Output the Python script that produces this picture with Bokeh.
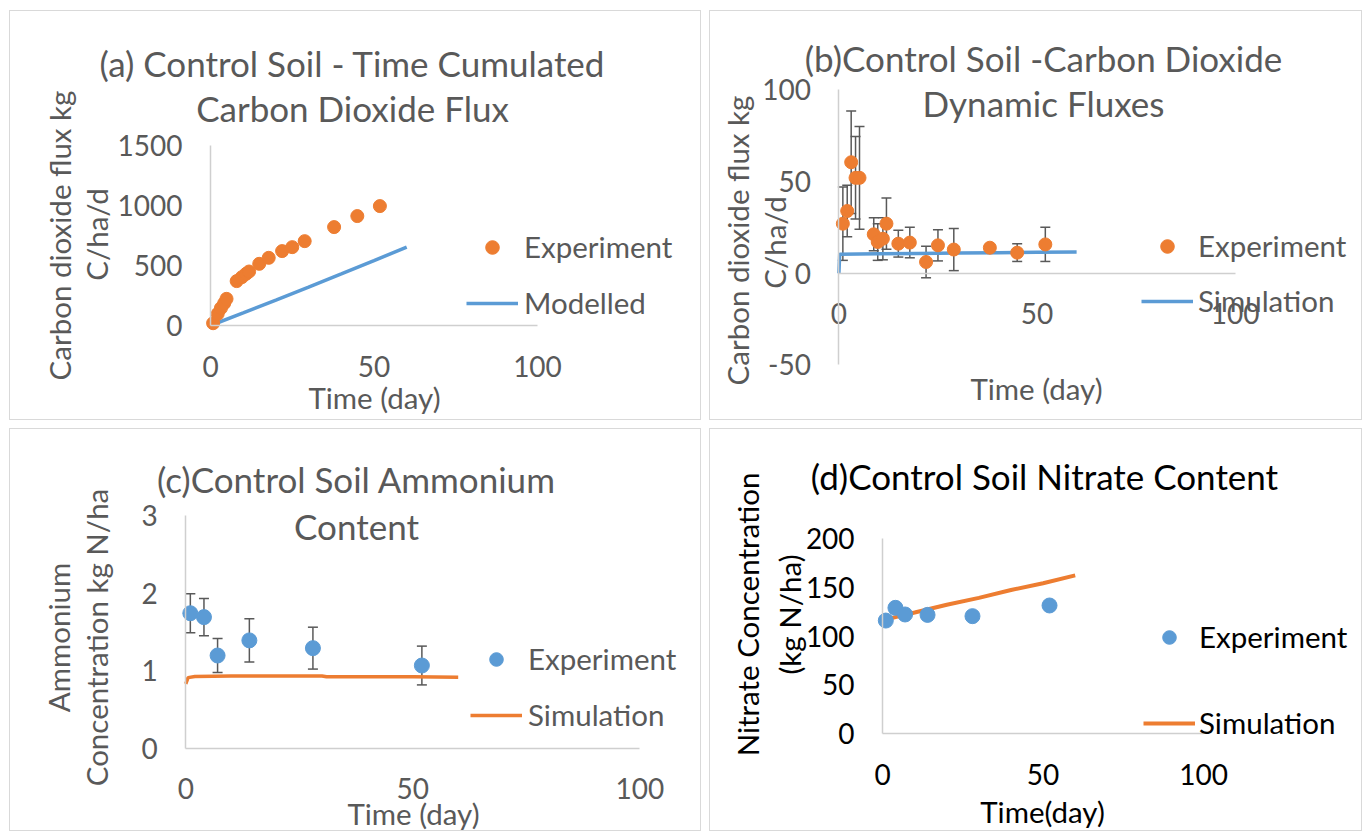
import math
from bokeh.plotting import figure
from bokeh.models import (Range1d, Legend, LegendItem, Whisker, TeeHead,
                          ColumnDataSource, Label, FixedTicker, CustomJSTickFormatter)
from bokeh.layouts import row, column
from bokeh.embed import file_html
from bokeh.resources import INLINE

# ---------------- data ----------------
# (a) cumulated CO2 flux
a_exp_day = [0.8, 2.2, 3.2, 4.2, 4.9, 8.0, 9.6, 10.9, 11.8, 14.9, 17.8, 21.9, 25.0, 28.8, 37.8, 44.9, 51.8]
a_exp_val = [19, 97, 145, 186, 222, 370, 403, 431, 450, 514, 564, 620, 653, 703, 820, 912, 995]
a_mod_day = [0, 10, 20, 30, 40, 50, 60]
a_mod_val = [0, 105, 212, 320, 430, 541, 653]

# (b) dynamic CO2 fluxes
b_exp_day = [1.0, 2.1, 3.1, 4.2, 5.2, 8.8, 9.8, 11.1, 12.0, 15.0, 17.9, 22.0, 25.0, 29.0, 38.1, 45.0, 52.1]
b_exp_val = [27.0, 33.9, 60.5, 52.0, 52.0, 21.2, 17.0, 18.8, 27.0, 16.1, 16.7, 6.1, 15.2, 12.9, 13.9, 11.2, 15.7]
b_exp_err = [20.0, 14.0, 28.0, 22.5, 28.0, 9.0, 10.0, 11.5, 14.0, 7.3, 8.3, 8.6, 8.5, 11.5, 1.5, 4.8, 9.3]
b_sim_day = [0, 0.2, 10, 20, 30, 40, 50, 60]
b_sim_val = [0, 10.4, 10.6, 10.8, 11.0, 11.2, 11.4, 11.5]

# (c) ammonium
c_exp_day = [1, 4, 7, 14, 28, 52]
c_exp_val = [1.74, 1.69, 1.195, 1.39, 1.29, 1.066]
c_exp_err = [0.25, 0.24, 0.22, 0.28, 0.27, 0.25]
c_sim_day = [0, 0.5, 2, 10, 20, 30, 31, 40, 50, 60]
c_sim_val = [0.83, 0.91, 0.925, 0.93, 0.93, 0.93, 0.92, 0.92, 0.92, 0.915]

# (d) nitrate
d_exp_day = [1, 4, 7, 14, 28, 52]
d_exp_val = [115.8, 128.8, 122.0, 121.6, 120.3, 131.2]
d_sim_day = [2.4, 10, 20, 30, 40, 50, 60]
d_sim_val = [118, 124, 132, 139, 147, 154, 162]

x_ticks = [0, 50, 100]
a_yticks = [0, 500, 1000, 1500]
b_yticks = [-50, 0, 50, 100]
c_yticks = [0, 1, 2, 3]
d_yticks = [0, 50, 100, 150, 200]

# ---------------- style ----------------
FONT = "Lato"
GREY = "#595959"
BLACK = "#000000"
AXIS = "#cfcfcf"
ORANGE = "#ED7D31"
BLUE = "#5B9BD5"
TICK_FS = "28px"
LAB_FS = "29.5px"
TITLE_FS = "35px"
VERT = math.pi / 2


class Panel:
    """A figure whose frame fills the whole canvas; axes are pinned at data 0."""

    def __init__(self, box, xcal, ycal, xb, yb, yticks, color):
        # box: page (left, top, width, height); xcal/ycal: ((d0, px0), (d1, px1))
        self.L, self.T, self.W, self.H = box
        self.color = color
        (xd0, xp0), (xd1, xp1) = xcal
        (yd0, yp0), (yd1, yp1) = ycal
        fx = lambda px: xd0 + (px - xp0) * (xd1 - xd0) / (xp1 - xp0)
        fy = lambda py: yd0 + (py - yp0) * (yd1 - yd0) / (yp1 - yp0)
        p = figure(width=self.W, height=self.H, output_backend="svg",
                   toolbar_location=None,
                   x_range=Range1d(fx(self.L), fx(self.L + self.W)),
                   y_range=Range1d(fy(self.T + self.H), fy(self.T)),
                   min_border=0, min_border_left=0, min_border_right=0,
                   min_border_top=0, min_border_bottom=0)
        p.outline_line_color = None
        p.grid.visible = False
        p.background_fill_color = "white"
        p.border_fill_color = "white"
        p.styles = {"outline": "1px solid #d9d9d9"}
        for ax, bounds, stand in ((p.xaxis[0], xb, 30), (p.yaxis[0], yb, 28)):
            ax.fixed_location = 0
            ax.bounds = bounds
            ax.axis_line_color = AXIS
            ax.axis_line_width = 1.5
            ax.major_tick_out = 0
            ax.major_tick_in = 0
            ax.minor_tick_out = 0
            ax.minor_tick_in = 0
            ax.major_tick_line_color = None
            ax.minor_tick_line_color = None
            ax.major_label_text_font = FONT
            ax.major_label_text_font_size = TICK_FS
            ax.major_label_text_color = color
            ax.major_label_standoff = stand
            ax.formatter = CustomJSTickFormatter(code="return String(tick)")
        p.xaxis.ticker = FixedTicker(ticks=x_ticks)
        p.yaxis.ticker = FixedTicker(ticks=yticks)
        self.p = p

    def text(self, px, py, text, size, angle=0.0):
        self.p.add_layout(Label(x=px - self.L, y=self.T + self.H - py,
                                x_units="screen", y_units="screen",
                                text=text, text_font=FONT, text_font_size=size,
                                text_color=self.color, text_align="center",
                                text_baseline="middle", angle=angle))

    def legend(self, items, left_px, bottom_px, spacing, standoff):
        leg = Legend(items=items,
                     location=(left_px - self.L, self.T + self.H - bottom_px),
                     label_text_font=FONT, label_text_font_size=LAB_FS,
                     label_text_color=self.color, glyph_width=52,
                     glyph_height=34, label_height=34, spacing=spacing,
                     padding=0, margin=0, border_line_color=None,
                     background_fill_alpha=0, label_standoff=standoff)
        self.p.add_layout(leg)

    def errors(self, days, vals, errs):
        src = ColumnDataSource(dict(x=days,
                                    lo=[v - e for v, e in zip(vals, errs)],
                                    hi=[v + e for v, e in zip(vals, errs)]))
        self.p.add_layout(Whisker(
            base="x", lower="lo", upper="hi", source=src,
            line_color=GREY, line_width=1.5, level="underlay",
            upper_head=TeeHead(size=10, line_color=GREY, line_width=1.5),
            lower_head=TeeHead(size=10, line_color=GREY, line_width=1.5)))


# ---------------- panel (a) ----------------
A = Panel((10, 11, 690, 408), ((0, 210), (100, 537)), ((0, 325), (1500, 145)),
          (0, 100), (0, 1500), a_yticks, GREY)
ra_mod = A.p.line(a_mod_day, a_mod_val, line_color=BLUE, line_width=3.5)
ra_exp = A.p.scatter(a_exp_day, a_exp_val, size=13, fill_color=ORANGE, line_color=ORANGE)
A.text(352, 62, "(a) Control Soil - Time Cumulated", TITLE_FS)
A.text(352, 107, "Carbon Dioxide Flux", TITLE_FS)
A.text(59, 235, "Carbon dioxide flux kg", LAB_FS, VERT)
A.text(96, 234, "C/ha/d", LAB_FS, VERT)
A.text(374, 397, "Time (day)", LAB_FS)
A.legend([LegendItem(label="Experiment", renderers=[ra_exp]),
          LegendItem(label="Modelled", renderers=[ra_mod])], 466, 320, 21, 6)

# ---------------- panel (b) ----------------
B = Panel((710, 11, 651, 408), ((0, 838.4), (100, 1234.6)), ((0, 272.7), (100, 89.3)),
          (0, 100), (-50, 100), b_yticks, GREY)
B.errors(b_exp_day, b_exp_val, b_exp_err)
rb_sim = B.p.line(b_sim_day, b_sim_val, line_color=BLUE, line_width=3.5)
rb_exp = B.p.scatter(b_exp_day, b_exp_val, size=13, fill_color=ORANGE, line_color=ORANGE)
B.text(1043, 57, "(b)Control Soil -Carbon Dioxide", TITLE_FS)
B.text(1043, 102, "Dynamic Fluxes", TITLE_FS)
B.text(737, 240, "Carbon dioxide flux kg", LAB_FS, VERT)
B.text(774, 242, "C/ha/d", LAB_FS, VERT)
B.text(1036, 388, "Time (day)", LAB_FS)
B.legend([LegendItem(label="Experiment", renderers=[rb_exp]),
          LegendItem(label="Simulation", renderers=[rb_sim])], 1141, 318, 20, 5)

# ---------------- panel (c) ----------------
C = Panel((10, 429, 690, 401), ((0, 185.3), (100, 639.3)), ((0, 747.7), (3, 515)),
          (0, 100), (0, 3), c_yticks, GREY)
C.errors(c_exp_day, c_exp_val, c_exp_err)
rc_sim = C.p.line(c_sim_day, c_sim_val, line_color=ORANGE, line_width=3.5)
rc_exp = C.p.scatter(c_exp_day, c_exp_val, size=15, fill_color=BLUE, line_color=BLUE)
C.text(356, 478, "(c)Control Soil Ammonium", TITLE_FS)
C.text(356, 525, "Content", TITLE_FS)
C.text(58, 637, "Ammonium", LAB_FS, VERT)
C.text(96, 637, "Concentration kg N/ha", LAB_FS, VERT)
C.text(413, 813, "Time (day)", LAB_FS)
C.legend([LegendItem(label="Experiment", renderers=[rc_exp]),
          LegendItem(label="Simulation", renderers=[rc_sim])], 470, 732, 21, 6)

# ---------------- panel (d) ----------------
D = Panel((710, 429, 651, 401), ((0, 882.1), (100, 1203.1)), ((0, 733.3), (200, 537.7)),
          (0, 100), (0, 200), d_yticks, BLACK)
rd_sim = D.p.line(d_sim_day, d_sim_val, line_color=ORANGE, line_width=4)
rd_exp = D.p.scatter(d_exp_day, d_exp_val, size=15, fill_color=BLUE, line_color=BLUE)
D.text(1044, 475, "(d)Control Soil Nitrate Content", TITLE_FS)
D.text(747, 614, "Nitrate Concentration", LAB_FS, VERT)
D.text(789, 614, "(kg N/ha)", LAB_FS, VERT)
D.text(1042, 811, "Time(day)", LAB_FS)
D.legend([LegendItem(label="Experiment", renderers=[rd_exp]),
          LegendItem(label="Simulation", renderers=[rd_sim])], 1143, 740, 51, 4)

layout = column(row(A.p, B.p, spacing=10), row(C.p, D.p, spacing=10),
                spacing=10, margin=(11, 0, 0, 10))
open("out.html", "w").write(file_html(layout, INLINE))
